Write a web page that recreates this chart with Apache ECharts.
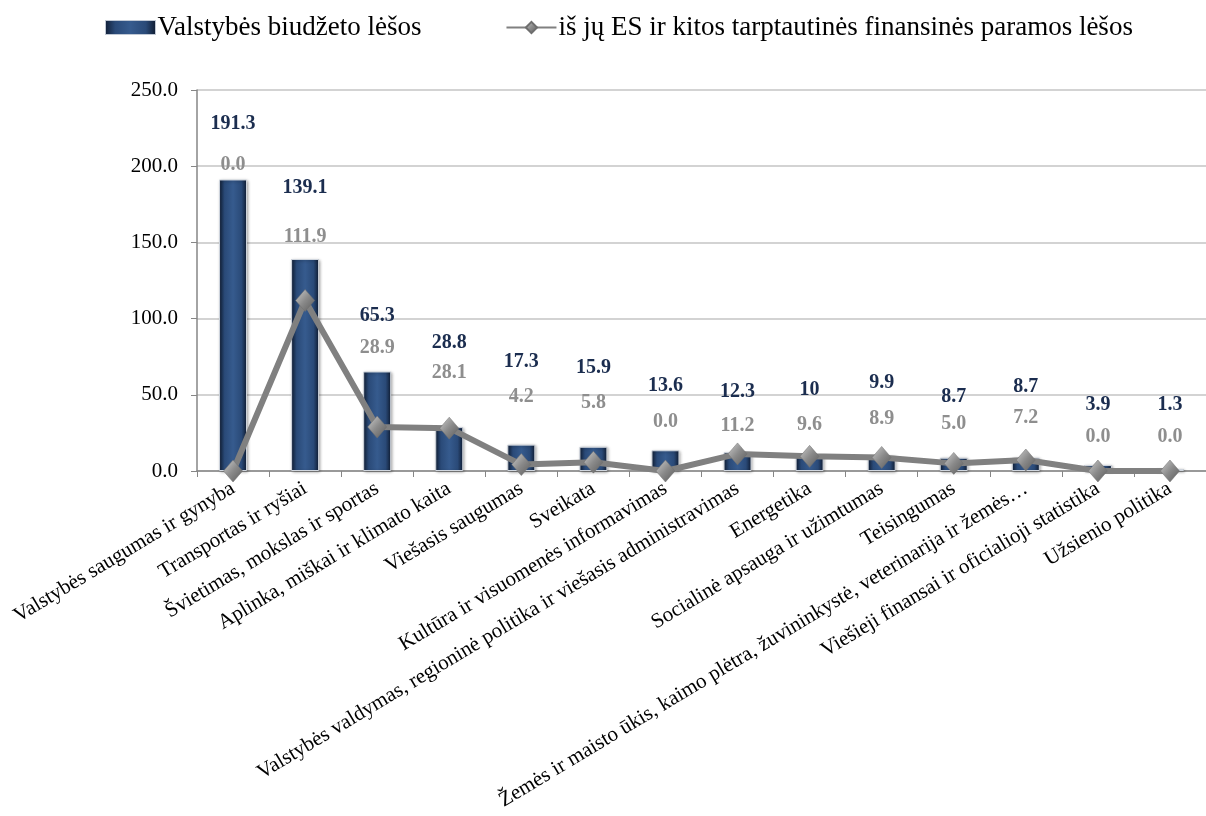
<!DOCTYPE html>
<html>
<head>
<meta charset="utf-8">
<script src="https://cdn.jsdelivr.net/npm/echarts@6/dist/echarts.min.js"></script>
<style>html,body{margin:0;padding:0;background:#fff;}#c{width:1206px;height:816px;}</style>
</head>
<body>
<div id="c"></div>
<script>
const categories = [
  'Valstybės saugumas ir gynyba',
  'Transportas ir ryšiai',
  'Švietimas, mokslas ir sportas',
  'Aplinka, miškai ir klimato kaita',
  'Viešasis saugumas',
  'Sveikata',
  'Kultūra ir visuomenės informavimas',
  'Valstybės valdymas, regioninė politika ir viešasis administravimas',
  'Energetika',
  'Socialinė apsauga ir užimtumas',
  'Teisingumas',
  'Žemės ir maisto ūkis, kaimo plėtra, žuvininkystė, veterinarija ir žemės…',
  'Viešieji finansai ir oficialioji statistika',
  'Užsienio politika'
];
const budgetValues = [191.3, 139.1, 65.3, 28.8, 17.3, 15.9, 13.6, 12.3, 10, 9.9, 8.7, 8.7, 3.9, 1.3];
const budgetLabels = ['191.3','139.1','65.3','28.8','17.3','15.9','13.6','12.3','10','9.9','8.7','8.7','3.9','1.3'];
const euValues = [0.0, 111.9, 28.9, 28.1, 4.2, 5.8, 0.0, 11.2, 9.6, 8.9, 5.0, 7.2, 0.0, 0.0];
const yTicks = [0, 50, 100, 150, 200, 250];
const seriesNames = ['Valstybės biudžeto lėšos', 'iš jų ES ir kitos tarptautinės finansinės paramos lėšos'];

// label placement (pixel gaps above marks, as in the original layout)
const barLabelGap = [56,71,56,84,83,79,64,60,66,73,61,71,60,64];
const lineLabelGap = [306,63,79,55,68,59,49,28,31,38,39,42,34,34];

const FONT = '"Liberation Serif","Times New Roman",serif';
const chart = echarts.init(document.getElementById('c'));

const barGrad = new echarts.graphic.LinearGradient(0, 0, 1, 0, [
  {offset: 0, color: '#111f36'},
  {offset: 0.2, color: '#2a4a78'},
  {offset: 0.5, color: '#365b8e'},
  {offset: 0.8, color: '#2a4a78'},
  {offset: 1, color: '#0f1b30'}
]);
const symGrad = new echarts.graphic.LinearGradient(0, 0, 1, 1, [
  {offset: 0, color: '#cfcfcf'},
  {offset: 0.5, color: '#8a8a8a'},
  {offset: 1, color: '#5a5a5a'}
]);

chart.setOption({
  animation: false,
  backgroundColor: '#fff',
  legend: {
    top: 9,
    left: 100,
    itemGap: 84,
    itemWidth: 50,
    itemHeight: 14,
    textStyle: {fontFamily: FONT, fontSize: 27, color: '#000', padding: [0, 0, 0, -3]},
    data: [
      {name: seriesNames[0], icon: 'rect', itemStyle: {color: barGrad, borderColor: '#c0c8d4', borderWidth: 1}},
      {name: seriesNames[1]}
    ]
  },
  grid: {left: 197, top: 90, height: 381, width: 1018, containLabel: false},
  xAxis: {
    type: 'category',
    data: categories,
    axisLine: {lineStyle: {color: '#868686', width: 1.5}},
    axisTick: {show: true, alignWithLabel: false, length: 6, lineStyle: {color: '#868686'}},
    axisLabel: {rotate: 31, interval: 0, fontFamily: FONT, fontSize: 21, color: '#000', margin: 16}
  },
  yAxis: {
    type: 'value',
    min: 0, max: 250, interval: 50,
    axisLine: {show: true, lineStyle: {color: '#868686', width: 1.5}},
    axisTick: {show: true, length: 6, lineStyle: {color: '#868686'}},
    splitLine: {lineStyle: {color: '#c4c4c4', width: 1.5}},
    axisLabel: {fontFamily: FONT, fontSize: 21, color: '#000', margin: 19,
      formatter: v => v.toFixed(1)}
  },
  series: [
    {
      name: seriesNames[0],
      type: 'bar',
      barWidth: 28,
      data: budgetValues.map((v, i) => ({
        value: v,
        label: {distance: barLabelGap[i] - 10}
      })),
      itemStyle: {color: barGrad, borderColor: '#d0d6de', borderWidth: 1,
        shadowColor: 'rgba(0,0,0,0.35)', shadowBlur: 3, shadowOffsetX: 1, shadowOffsetY: 1},
      label: {
        show: true, position: 'top',
        formatter: p => budgetLabels[p.dataIndex],
        fontFamily: FONT, fontSize: 20, fontWeight: 'bold', color: '#1b2d4f'
      },
      z: 2
    },
    {
      name: seriesNames[1],
      type: 'line',
      data: euValues.map((v, i) => ({
        value: v,
        label: {distance: lineLabelGap[i] - 21}
      })),
      symbol: 'diamond',
      symbolSize: [19, 22],
      lineStyle: {color: '#808080', width: 6},
      itemStyle: {color: symGrad, borderColor: '#6e6e6e', borderWidth: 0.5},
      label: {
        show: true, position: 'top',
        formatter: p => p.value.toFixed(1),
        fontFamily: FONT, fontSize: 20, fontWeight: 'bold', color: '#8e8e8e'
      },
      z: 3
    }
  ]
});
</script>
</body>
</html>
